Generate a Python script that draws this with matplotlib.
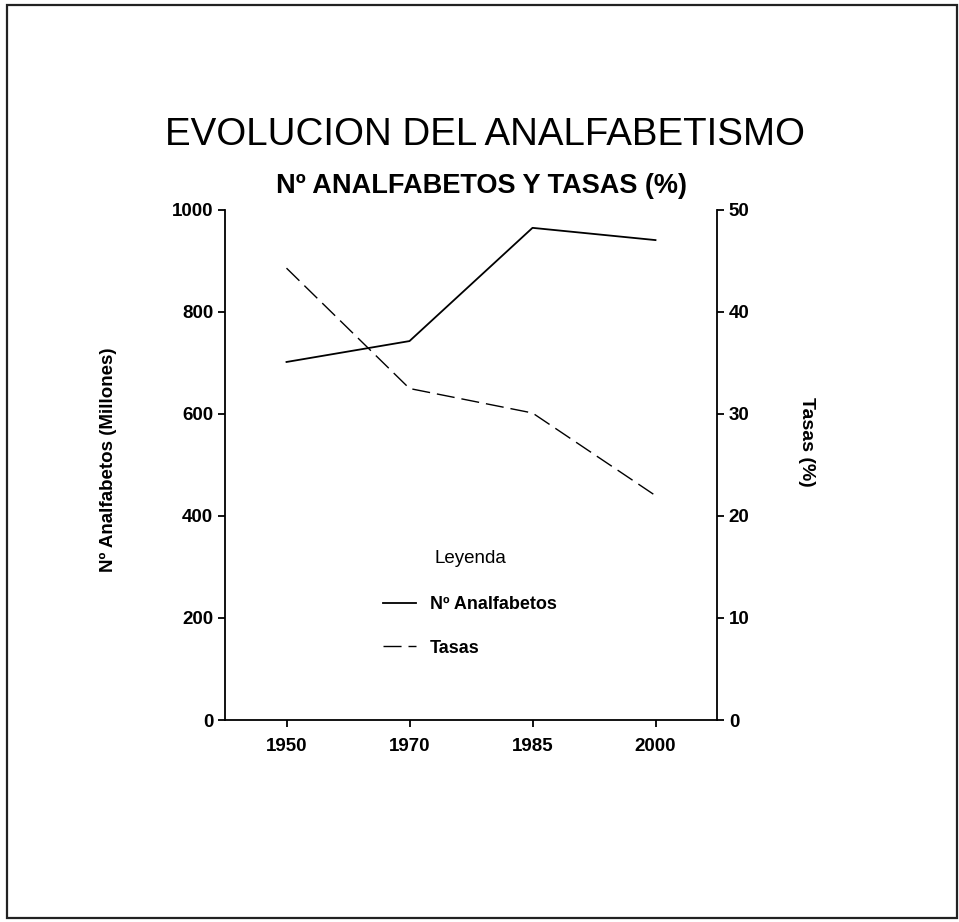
import matplotlib
matplotlib.use("Agg")
import matplotlib.pyplot as plt
from matplotlib.patches import Rectangle

years = ["1950", "1970", "1985", "2000"]
analfabetos = [702, 743, 965, 941]
tasas = [44.3, 32.5, 30.1, 22.0]

plt.rcParams['font.family'] = ['Liberation Sans', 'DejaVu Sans']

W, H = 959, 922
fig = plt.figure(figsize=(W / 100, H / 100), dpi=100)
fig.patch.set_facecolor('white')

# outer border
fig.add_artist(Rectangle((7 / W, 1 - 918 / H), (957 - 7) / W, (918 - 5) / H,
                         transform=fig.transFigure, fill=False, lw=1.6, ec='#222222'))

ax = fig.add_axes([225 / W, 1 - 720 / H, 492 / W, 510 / H])
ax2 = ax.twinx()

x = list(range(len(years)))
l1, = ax.plot(x, analfabetos, color='black', lw=1.3, label='Nº Analfabetos')
l2, = ax2.plot(x, tasas, color='black', lw=1.0, dashes=(13, 5), label='Tasas')

ax.set_xlim(-0.5, 3.5)
ax.set_ylim(0, 1000)
ax2.set_ylim(0, 50)
ax.set_xticks(x)
ax.set_xticklabels(years)
ax.set_yticks([0, 200, 400, 600, 800, 1000])
ax2.set_yticks([0, 10, 20, 30, 40, 50])

for a in (ax, ax2):
    a.spines['top'].set_visible(False)
    for s in a.spines.values():
        s.set_linewidth(1.3)
ax.spines['right'].set_visible(False)
ax2.spines['left'].set_visible(False)
ax2.spines['bottom'].set_visible(False)

ax.tick_params(axis='both', direction='out', length=5, width=1.3, labelsize=13.5)
ax2.tick_params(axis='y', direction='out', length=5, width=1.3, labelsize=13.5)
for lab in ax.get_xticklabels() + ax.get_yticklabels() + ax2.get_yticklabels():
    lab.set_fontweight('bold')
ax.tick_params(axis='x', pad=8)

ax.set_ylabel('Nº Analfabetos (Millones)', fontsize=13.5, fontweight='bold')
ax.yaxis.set_label_coords((117 - 225) / 492, (720 - 460) / 510)
ax2.set_ylabel('Tasas (%)', fontsize=14, fontweight='bold', rotation=270, va='center')
ax2.yaxis.set_label_coords((806 - 225) / 492, (720 - 442) / 510)

fig.text(485 / W, 1 - 135 / H, 'EVOLUCION DEL ANALFABETISMO', ha='center', va='center',
         fontsize=27.7)
fig.text(481 / W, 1 - 186 / H, 'Nº ANALFABETOS Y TASAS (%)', ha='center', va='center',
         fontsize=19.5, fontweight='bold')

leg = ax.legend(handles=[l1, l2], title='Leyenda', frameon=False,
                loc='upper left', bbox_to_anchor=((367 - 225) / 492, (720 - 534) / 510),
                prop={'weight': 'bold', 'size': 13}, title_fontsize=13.5,
                handlelength=1.8, labelspacing=1.45, handletextpad=0.8)
leg._legend_box.align = 'center'
leg._legend_box.sep = 21

fig.savefig('out.png', dpi=100, facecolor='white')
